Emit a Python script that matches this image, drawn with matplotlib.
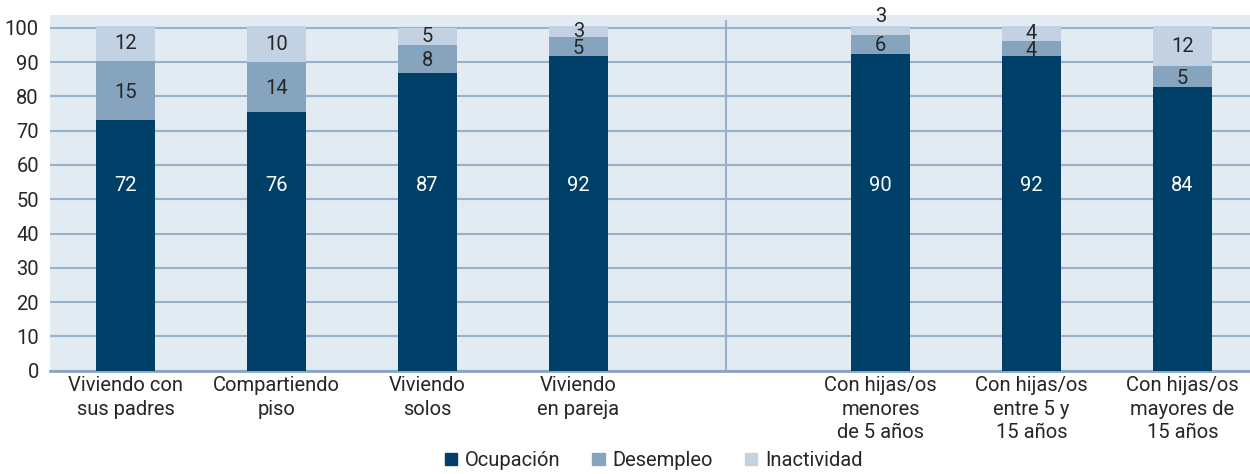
import numpy as np
import matplotlib.pyplot as plt
from matplotlib.patches import Patch

plt.rcParams['font.family'] = ['Roboto', 'DejaVu Sans']

# --- data (bar heights, labels as printed) ---
categories = ['Viviendo con\nsus padres', 'Compartiendo\npiso', 'Viviendo\nsolos', 'Viviendo\nen pareja',
              '', 'Con hijas/os\nmenores\nde 5 años', 'Con hijas/os\nentre 5 y\n15 años',
              'Con hijas/os\nmayores de\n15 años']
ocupacion = [73.1, 75.5, 86.9, 91.7, np.nan, 92.5, 91.7, 82.8]
desempleo = [17.2, 14.4, 8.1, 5.7, np.nan, 5.5, 4.4, 6.0]
inactividad = [10.2, 10.6, 5.1, 3.2, np.nan, 2.5, 4.4, 11.7]
lab_ocup = ['72', '76', '87', '92', '', '90', '92', '84']
lab_des = ['15', '14', '8', '5', '', '6', '4', '5']
lab_inact = ['12', '10', '5', '3', '', '3', '4', '12']

c_ocup = '#004068'
c_des = '#87a4bf'
c_inact = '#c3d2e3'
bg = '#e2eaf2'
grid_c = '#9ab1ca'
txt = '#262626'

fig = plt.figure(figsize=(12.5, 4.74), dpi=100)
ax = fig.add_axes([0.04, 0.218, 0.96, 0.750])
ax.set_facecolor(bg)

x = np.arange(len(categories))
w = 0.39
occ = np.array(ocupacion)
des = np.array(desempleo)
ina = np.array(inactividad)
ax.bar(x, occ, w, color=c_ocup, zorder=3)
ax.bar(x, des, w, bottom=occ, color=c_des, zorder=3)
ax.bar(x, ina, w, bottom=occ + des, color=c_inact, zorder=3)

fs = 14.5
for i in x:
    if np.isnan(occ[i]):
        continue
    ax.text(i, 54, lab_ocup[i], ha='center', va='center', color='white', fontsize=fs, zorder=4)
    ax.text(i, occ[i] + des[i] / 2 - 0.5, lab_des[i], ha='center', va='center', color=txt, fontsize=fs, zorder=4)
    top = occ[i] + des[i] + ina[i]
    yy = top + 2.7 if ina[i] < 3 else top - ina[i] / 2
    ax.text(i, yy, lab_inact[i], ha='center', va='center', color=txt, fontsize=fs, zorder=4)

# separator between the two groups
ax.plot([3.98, 3.98], [0, 102], color=grid_c, lw=1.5, zorder=2)

ax.set_xlim(-0.5, 7.447)
ax.set_ylim(0, 103.7)
ax.set_yticks(range(0, 101, 10))
ax.yaxis.grid(True, color=grid_c, lw=1.5, zorder=1)
ax.set_axisbelow(True)
ax.set_xticks(x)
ax.set_xticklabels(categories, fontsize=fs, color=txt, linespacing=1.3)
ax.tick_params(axis='both', length=0, labelsize=fs, colors=txt)
ax.tick_params(axis='x', pad=4)
ax.tick_params(axis='y', pad=8)
for s in ['top', 'right', 'left']:
    ax.spines[s].set_visible(False)
ax.spines['bottom'].set_color('#8aa5c2')
ax.spines['bottom'].set_linewidth(2)

handles = [Patch(color=c_ocup, label='Ocupación'),
           Patch(color=c_des, label='Desempleo'),
           Patch(color=c_inact, label='Inactividad')]
fig.legend(handles=handles, loc='lower center', bbox_to_anchor=(0.523, -0.03), ncol=3, frameon=False,
           fontsize=14.5, handlelength=0.6, handleheight=0.6, handletextpad=0.4, columnspacing=1.6,
           labelcolor=txt)

fig.savefig('out.png', dpi=100)
